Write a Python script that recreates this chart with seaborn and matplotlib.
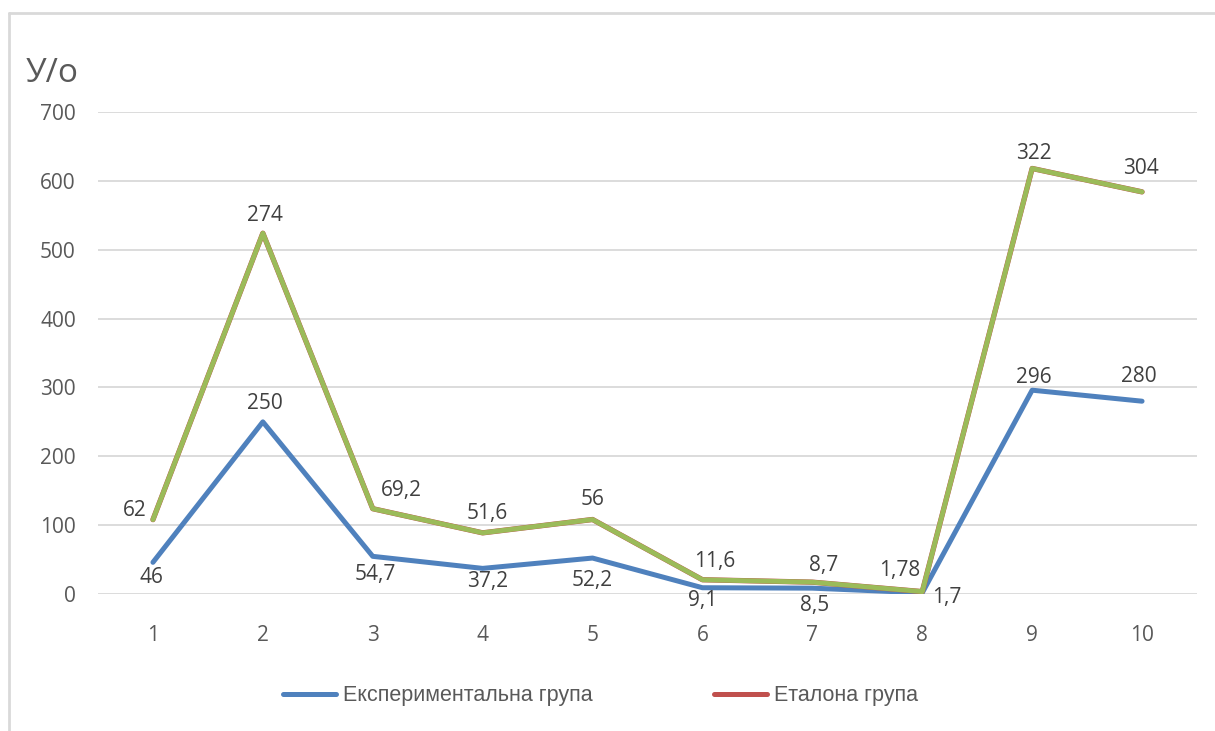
import numpy as np
import matplotlib
matplotlib.use("Agg")
import matplotlib.pyplot as plt
from matplotlib.lines import Line2D
import seaborn as sns

# Categories and series values
categories = [1, 2, 3, 4, 5, 6, 7, 8, 9, 10]
experimental = [46, 250, 54.7, 37.2, 52.2, 9.1, 8.5, 1.7, 296, 280]
reference = [62, 274, 69.2, 51.6, 56, 11.6, 8.7, 1.78, 322, 304]
y_ticks = [0, 100, 200, 300, 400, 500, 600, 700]

series_names = ["Експериментальна група", "Еталона група"]
y_title = "У/о"

# Stacked line chart: the second series sits on top of the first
stacked = np.array(experimental) + np.array(reference)

# Label placement offsets (pixels: dx, dy upward)
exp_offsets = [(-2, -15), (2, 18), (3, -18), (5, -13), (0, -22),
               (0, -13), (2, -17), (25, -5), (2, 13), (-3, 25)]
ref_offsets = [(-18, 9), (2, 18), (29, 18), (5, 19), (0, 20),
               (12, 18), (11, 17), (-23, 21), (2, 15), (-1, 23)]

BLUE = "#4F81BD"
RED = "#C0504D"
GREEN = "#9BBB59"
GRID = "#D9D9D9"
TICK_TXT = "#595959"
LABEL_TXT = "#404040"

sns.set_style("white")
plt.rcParams["font.family"] = ["Open Sans", "DejaVu Sans"]

W, H = 1215, 731
fig = plt.figure(figsize=(W / 100, H / 100), dpi=100)
fig.patch.set_facecolor("white")

ax = fig.add_axes([98 / W, 1 - 594 / H, 1099 / W, 482 / H])

line_kw = dict(solid_capstyle="round", solid_joinstyle="round")
sns.lineplot(x=categories, y=experimental, ax=ax, color=BLUE, lw=3.6, **line_kw)
sns.lineplot(x=categories, y=stacked, ax=ax, color=RED, lw=3.8, **line_kw)
sns.lineplot(x=categories, y=stacked, ax=ax, color=GREEN, lw=3.5, **line_kw)

ax.set_xlim(0.5, 10.5)
ax.set_ylim(0, 700)
ax.set_yticks(y_ticks)
ax.set_xticks(categories)
ax.set_xticklabels([str(c) for c in categories])
ax.grid(axis="y", color=GRID, lw=1.3)
ax.set_axisbelow(True)
for s in ax.spines.values():
    s.set_visible(False)
ax.tick_params(axis="y", length=0, pad=16, labelsize=15, labelcolor=TICK_TXT)
ax.tick_params(axis="x", length=0, pad=22, labelsize=15, labelcolor=TICK_TXT)
ax.set_xlabel("")
ax.set_ylabel("")


def fmt(v):
    return f"{v:g}".replace(".", ",")


for x, y, v, (dx, dy) in zip(categories, experimental, experimental, exp_offsets):
    ax.annotate(fmt(v), (x, y), xytext=(dx, dy), textcoords="offset pixels",
                ha="center", va="center", fontsize=15, color=LABEL_TXT)
for x, y, v, (dx, dy) in zip(categories, stacked, reference, ref_offsets):
    ax.annotate(fmt(v), (x, y), xytext=(dx, dy), textcoords="offset pixels",
                ha="center", va="center", fontsize=15, color=LABEL_TXT)

fig.text(26 / W, 1 - 73 / H, y_title, fontsize=24, color=TICK_TXT,
         ha="left", va="center")

# Legend entries
leg_font = {"family": ["Liberation Sans", "DejaVu Sans"], "size": 15.5}
for name, color, x0 in [(series_names[0], BLUE, 283), (series_names[1], RED, 714)]:
    h = Line2D([], [], color=color, lw=3.6, solid_capstyle="round")
    fig.legend([h], [name], loc="center left",
               bbox_to_anchor=(x0 / W, 1 - 696 / H), frameon=False,
               borderpad=0, borderaxespad=0, handlelength=2.45,
               handletextpad=0.35, prop=leg_font, labelcolor=TICK_TXT)

# Chart border
fig.add_artist(Line2D([9 / W, 9 / W], [0, 1 - 13 / H], transform=fig.transFigure,
                      color=GRID, lw=2))
fig.add_artist(Line2D([9 / W, 1], [1 - 13 / H, 1 - 13 / H], transform=fig.transFigure,
                      color=GRID, lw=2))

fig.savefig("out.png", dpi=100, facecolor="white")
